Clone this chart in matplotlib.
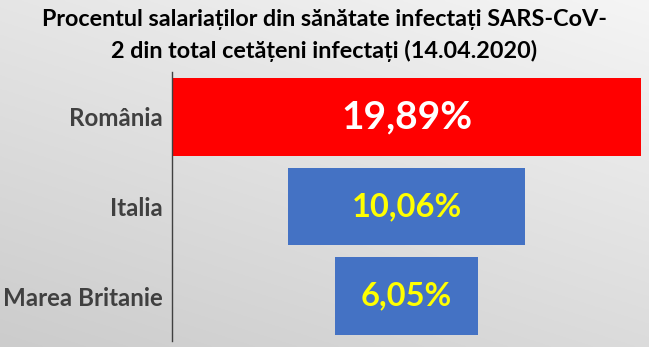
import numpy as np
import matplotlib.pyplot as plt

tari = ['România', 'Italia', 'Marea Britanie']
procente = [19.89, 10.06, 6.05]
etichete = ['19,89%', '10,06%', '6,05%']
culori = ['#FF0000', '#4472C4', '#4472C4']
culori_text = ['white', '#FFFF00', '#FFFF00']
titlu = 'Procentul salariaților din sănătate infectați SARS-CoV-\n2 din total cetățeni infectați (14.04.2020)'

plt.rcParams['font.family'] = ['Lato', 'DejaVu Sans']

fig = plt.figure(figsize=(6.49, 3.47), dpi=100)

# gradient background
bg = fig.add_axes([0, 0, 1, 1])
yy, xx = np.mgrid[0:1:200j, 0:1:300j]
g = 0.80 + 0.10 * (1 - yy) + 0.06 * xx
g = np.clip(g, 0, 0.96)
bg.imshow(np.dstack([g, g, g]), aspect='auto', extent=[0, 1, 0, 1], origin='upper')
bg.axis('off')

ax = fig.add_axes([172 / 649, 6 / 347, 469 / 649, 269 / 347])
ax.patch.set_alpha(0)
y = np.arange(len(tari))
ax.barh(y, procente, left=[-p / 2 for p in procente], height=0.867, color=culori)
for i in range(len(tari)):
    ax.text(0, y[i], etichete[i], ha='center', va='center', fontsize=28 if i == 0 else 23.5,
            fontweight='bold', color=culori_text[i])
ax.set_xlim(-procente[0] / 2, procente[0] / 2)
ax.set_ylim(2.5, -0.5)
ax.set_yticks(y)
ax.set_yticklabels(tari, fontsize=17.4, fontweight='bold', color='#404040')
ax.tick_params(axis='y', length=0, pad=7)
ax.set_xticks([])
for s in ['top', 'right', 'bottom']:
    ax.spines[s].set_visible(False)
ax.spines['left'].set_color('#404040')
ax.spines['left'].set_linewidth(1)

fig.text(0.5, 0.897, titlu, ha='center', va='center', fontsize=16.8, fontweight='bold',
         color='black', linespacing=1.55)

fig.savefig('out.png', dpi=100)
